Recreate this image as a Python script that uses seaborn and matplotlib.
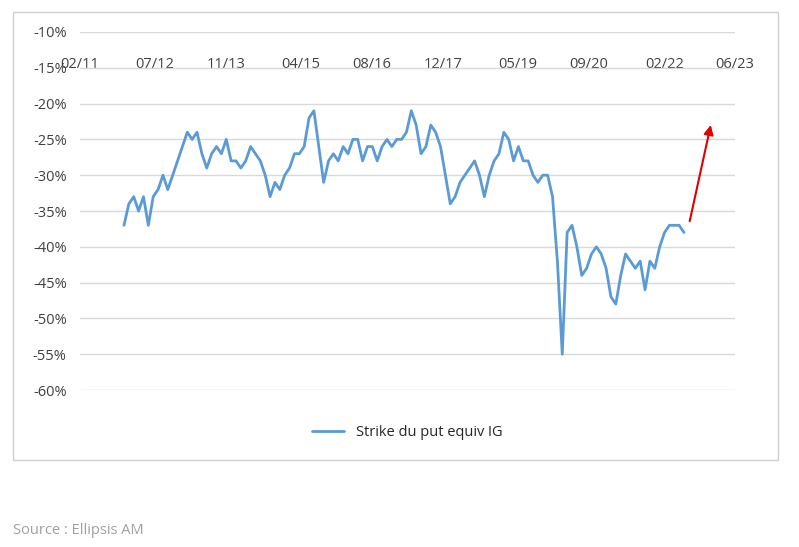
import matplotlib
matplotlib.use("Agg")
import matplotlib.pyplot as plt
import matplotlib.patches as mpatches
import seaborn as sns
import pandas as pd

values = [-37,-34,-33,-35,-33,-37,-33,-32,-30,-32,-30,-28,-26,-24,-25,-24,-27,-29,-27,-26,
          -27,-25,-28,-28,-29,-28,-26,-27,-28,-30,-33,-31,-32,-30,-29,-27,-27,-26,-22,-21,
          -26,-31,-28,-27,-28,-26,-27,-25,-25,-28,-26,-26,-28,-26,-25,-26,-25,-25,-24,-21,
          -23,-27,-26,-23,-24,-26,-30,-34,-33,-31,-30,-29,-28,-30,-33,-30,-28,-27,-24,-25,
          -28,-26,-28,-28,-30,-31,-30,-30,-33,-42,-55,-38,-37,-40,-44,-43,-41,-40,-41,-43,
          -47,-48,-44,-41,-42,-43,-42,-46,-42,-43,-40,-38,-37,-37,-37,-38]
start_date = "2011-12-01"
end_date = "2022-06-15"
tick_labels = ["02/11","07/12","11/13","04/15","08/16","12/17","05/19","09/20","02/22","06/23"]
tick_dates = ["2011-02-01","2012-07-01","2013-11-01","2015-04-01","2016-08-01",
              "2017-12-01","2019-05-01","2020-09-01","2022-02-01","2023-06-01"]

dates = pd.date_range(start_date, end_date, periods=len(values))
df = pd.DataFrame({"date": dates, "v": values})

sns.set_style("white")
plt.rcParams['font.family'] = ['Open Sans', 'DejaVu Sans']
fig = plt.figure(figsize=(7.99, 5.47), dpi=100)
fig.patches.append(mpatches.Rectangle((13/799, 1-460/547), 765/799, 448/547,
                   transform=fig.transFigure, fill=False, edgecolor="#d0d0d0", lw=1))
ax = fig.add_axes([0.100, 0.287, 0.82, 0.6545])
sns.lineplot(data=df, x="date", y="v", ax=ax, color="#5b9bd5", lw=2,
             label="Strike du put equiv IG")
ax.set_ylim(-60, -10)
ax.set_xlim(pd.Timestamp(tick_dates[0]), pd.Timestamp(tick_dates[-1]))
ax.set_yticks(range(-60, -9, 5))
ax.set_yticklabels([f"{t}%" for t in range(-60, -9, 5)], fontsize=10.5, color="#404040")
ax.set_xticks([pd.Timestamp(d) for d in tick_dates])
ax.set_xticklabels(tick_labels, fontsize=10.5, color="#404040")
ax.tick_params(axis='x', top=False, bottom=False, labeltop=True, labelbottom=False, pad=-32)
ax.tick_params(axis='y', left=False, pad=6)
ax.grid(axis='y', color="#d9d9d9", lw=1)
for s in ax.spines.values():
    s.set_visible(False)
ax.set_xlabel(""); ax.set_ylabel("")
ax.annotate("", xy=(pd.Timestamp("2022-12-20"), -22.6), xytext=(pd.Timestamp("2022-07-20"), -36.8),
            arrowprops=dict(arrowstyle="-|>", color="#e00000", lw=1.5, mutation_scale=14))
ax.legend(loc="upper center", bbox_to_anchor=(0.5, -0.06), frameon=False, fontsize=10.5,
          handlelength=2.2)
fig.text(13/799, 1-530/547, "Source : Ellipsis AM", fontsize=10.5, color="#a0a0a0", va="center")
fig.savefig("out.png", dpi=100)
